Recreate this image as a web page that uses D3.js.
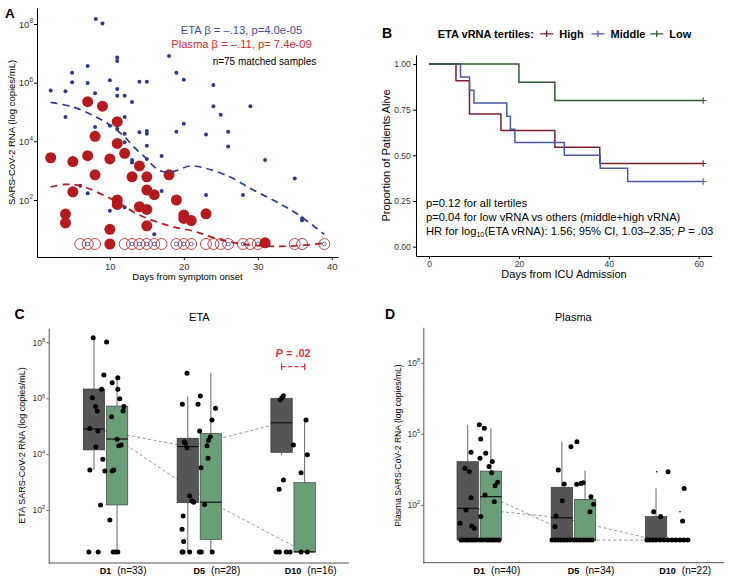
<!DOCTYPE html>
<html><head><meta charset="utf-8">
<script src="https://cdn.jsdelivr.net/npm/d3@7"></script>
<style>body{margin:0;background:#fff}svg{font-family:"Liberation Sans",Arial,Helvetica,sans-serif}</style>
</head><body><svg id="c" width="730" height="582"></svg>
<script>
// ===== DATA =====
// Panel A: [days from symptom onset, log10 copies/mL]
const etaPts = [[8.1,8.17],[9,8.02],[18,6.91],[11,6.86],[11,6.74],[4.9,6.34],[7,6.57],[19,6.34],[4.9,6.01],[7,5.99],[10,6.08],[14,6.03],[15,6.03],[20,6.10],[2,5.73],[4,5.71],[8,5.64],[11,5.78],[11,5.55],[12,5.55],[13,5.34],[4,4.83],[12,4.83],[8,4.49],[10,4.53],[11,4.43],[12,4.26],[14,4.31],[15,4.35],[15,4.26],[19,4.33],[20,4.60],[12,3.97],[15,3.85],[24,5.92],[24,5.20],[29,5.20],[25,4.91],[23,4.23],[26,4.33],[26,3.82],[13,3.36],[13,3.28],[15,3.40],[17,3.50],[7,2.23],[17,2.31],[6,2.49],[10,1.63],[12,1.75],[16,0.83],[31,3.36],[35,2.73],[23,2.17],[28,2.17],[36,1.31],[36,1.38]];
const etaUndetDays = [7,13,14,15,16,19,20,21,26,28,30,39];
const plasmaPts = [[7,5.35],[9,5.20],[11,4.67],[8,4.17],[11,3.93],[2,3.44],[5,3.31],[7,3.51],[10,3.40],[12,3.59],[14,3.16],[8,2.86],[13,2.79],[15,2.79],[18,2.86],[5,2.28],[15,2.34],[16,2.18],[19,2.0],[11,2.0],[11,1.85],[14,1.77],[15,1.68],[4,1.52],[4,1.22],[20,1.49],[20,1.37],[21,1.30],[15,1.12],[10,1.0],[10,0.5],[23,1.53],[31,0.54]];
const plasmaUndetDays = [6,7,8,12,13,14,15,16,17,19,20,21,23,24,25,26,28,29,30,35,36,39];
const LOD = 0.5;
const etaFit = [[2,5.33],[5,5.17],[8,4.85],[10,4.56],[12,4.15],[13.2,3.82],[15,3.40],[16,3.13],[17,2.98],[18,2.94],[19,3.0],[20.8,3.16],[23,3.08],[26.2,2.79],[29.4,2.34],[32.5,1.94],[35.2,1.55],[39,0.83]];
const plasmaFit = [[2,2.45],[4,2.53],[6,2.49],[10,2.06],[14,1.49],[18,1.12],[21,0.96],[22.2,0.87],[24.9,0.65],[28.5,0.48],[32.1,0.42],[35.2,0.44],[39,0.53]];
const aXTicks = [10,20,30,40];
const aYTicks = [2,4,6,8];

// Panel B: Kaplan-Meier [day, proportion alive]
const kmHigh = [[0,1],[6,0.909],[9,0.727],[16,0.636],[28,0.545],[38,0.455],[61,0.455]];
const kmMiddle = [[0,1],[7,0.929],[9,0.857],[10,0.786],[17.3,0.714],[18.1,0.643],[19.1,0.571],[30.1,0.5],[38.1,0.429],[44.2,0.357],[61,0.357]];
const kmLow = [[0,1],[20,0.9],[28,0.8],[61,0.8]];
const bXTicks = [0,20,40,60];
const bYTicks = [0,0.25,0.5,0.75,1];
const tertiles = ["High","Middle","Low"];

// Panels C & D
const cats = ["D1","D5","D10"];
const nEta = ["(n=33)","(n=28)","(n=16)"];
const nPlasma = ["(n=40)","(n=34)","(n=22)"];
// [category 1-3, group (0 dark,1 green), whiskerLow, Q1, median, Q3, whiskerHigh] in log10
const etaBoxes = [[1,0,3.43,4.15,4.90,6.33,8.16],[1,1,0.5,2.18,4.54,5.72,6.79],[2,0,0.5,2.26,4.27,4.57,6.05],[2,1,0.5,0.95,2.28,4.74,6.89],[3,0,3.97,4.06,5.12,6.0,6.0],[3,1,0.5,0.5,0.5,2.98,5.2]];
const plasmaBoxes = [[1,0,0.52,0.52,1.86,3.83,5.38],[1,1,0.52,0.52,2.35,3.43,5.24],[2,0,0.52,0.52,1.46,2.75,4.67],[2,1,0.52,0.52,0.52,2.24,3.45],[3,0,0.52,0.52,0.52,1.51,2.70],[3,1,0.52,0.52,0.52,0.52,0.52]];
// jittered points: [category position, log10]
const etaDots = [[0.869,8.16],[1.011,8.01],[0.982,6.83],[0.957,6.32],[1.071,6.55],[1.131,6.73],[1.131,6.32],[1.152,5.98],[0.859,6.02],[0.894,5.70],[0.912,5.54],[1.195,5.70],[1.188,5.54],[1.064,5.34],[0.833,4.92],[0.918,4.83],[0.897,4.26],[1.124,4.53],[1.141,4.30],[1.167,4.33],[0.971,3.82],[0.833,3.43],[0.993,3.40],[1.071,3.40],[1.088,3.43],[0.947,2.18],[1.046,1.64],[0.822,0.5],[0.922,0.5],[1.082,0.5],[1.106,0.5],[1.131,0.5],
 [1.869,6.89],[2.011,6.08],[1.819,5.78],[1.986,5.78],[2.173,5.64],[2.135,5.22],[2.003,4.83],[2.117,4.62],[2.099,4.50],[1.840,4.44],[1.851,4.39],[1.869,4.23],[2.082,4.30],[2.093,3.85],[2.018,3.51],[1.897,2.50],[1.922,2.32],[1.939,2.28],[2.056,2.20],[1.827,1.79],[1.816,1.31],[1.833,0.87],[1.816,0.5],[1.827,0.5],[1.897,0.5],[2.0,0.5],[2.021,0.5],[2.138,0.5],
 [2.862,5.94],[2.880,6.02],[2.897,6.09],[3.138,5.22],[3.003,4.33],[3.152,3.98],[3.085,3.33],[2.897,3.07],[2.851,2.74],[2.819,0.5],[2.854,0.5],[2.926,0.5],[2.968,0.5],[3.085,0.5],[3.152,0.5]];
const plasmaDots = [[1.0,5.38],[1.053,5.24],[1.015,4.78],[0.912,4.22],[1.068,4.18],[1.007,3.97],[1.138,3.83],[1.103,3.62],[0.848,3.55],[0.894,3.41],[1.132,3.36],[1.195,2.96],[1.167,2.81],[0.912,2.31],[1.061,2.42],[1.159,2.14],[0.859,1.79],[1.015,1.51],[0.795,1.23],[0.919,1.11],[0.947,1.02],
 [0.806,0.52],[0.830,0.52],[0.859,0.52],[0.883,0.52],[0.912,0.52],[0.936,0.52],[0.965,0.52],[1.007,0.52],[1.039,0.52],[1.079,0.52],[1.103,0.52],[1.132,0.52],[1.156,0.52],[1.185,0.52],[1.209,0.52],
 [2.037,4.67],[1.973,4.46],[1.839,3.48],[1.902,2.89],[2.034,2.87],[2.080,2.91],[2.104,2.94],[1.881,2.18],[2.186,2.35],[2.214,2.03],[2.175,1.72],[1.814,1.54],[1.804,1.09],
 [1.772,0.52],[1.804,0.52],[1.835,0.52],[1.867,0.52],[1.899,0.52],[1.931,0.52],[1.963,0.52],[2.005,0.52],[2.037,0.52],[2.069,0.52],[2.101,0.52],[2.133,0.52],[2.165,0.52],[2.197,0.52],
 [3.006,3.40],[3.176,2.70],[2.851,1.72],[2.926,1.51],[3.159,1.33],
 [2.780,0.52],[2.812,0.52],[2.844,0.52],[2.876,0.52],[2.918,0.52],[2.961,0.52],[3.003,0.52],[3.046,0.52],[3.088,0.52],[3.131,0.52],[3.173,0.52],[3.216,0.52]];
const plasmaTiny = [[2.884,3.40],[3.132,1.72]];
const cYTicks = [2,4,6,8];
const dYTicks = [2,5,8];

// ===== DRAWING =====
const svg = d3.select("#c");
const BLUE="#2d3a8c", RED="#b31b1e", BLUE_T="#3d4ea3", RED_T="#d42a2e";
const KMC = {High:"#7a1f2b", Middle:"#4b5ba6", Low:"#2f5a2f"};
const BOXC = ["#555555","#6a9e79"];

function txt(g,x,y,s,o={}){
  const t=g.append("text").attr("x",x).attr("y",y).text(s)
    .attr("font-size",o.size||11).attr("fill",o.fill||"#000")
    .attr("text-anchor",o.anchor||"start").attr("font-weight",o.weight||"normal");
  if(o.rotate) t.attr("transform",`rotate(-90,${x},${y})`);
  return t;
}
function styleAxis(a,fs,col){
  a.attr("font-family",null).attr("font-size",fs);
  a.select(".domain").attr("stroke",col||"#000").attr("stroke-width",1);
  a.selectAll(".tick line").attr("stroke",col||"#000");
  a.selectAll(".tick text").attr("fill","#333");
}
function logAxisLeft(g,scale,ticks,x,fs,size,pad,col){
  const a=g.append("g").attr("transform",`translate(${x},0)`)
    .call(d3.axisLeft(scale).tickValues(ticks).tickSize(size).tickSizeOuter(0).tickPadding(pad));
  styleAxis(a,fs,col);
  a.selectAll(".tick text").each(function(d){
    const t=d3.select(this).text(null);
    t.append("tspan").text("10");
    t.append("tspan").attr("dy",-fs*0.45).attr("font-size",fs*0.68).text(d);
  });
  return a;
}

// ---------- Panel A ----------
const gA=svg.append("g");
const ax=d3.scaleLinear().domain([0.15,40.85]).range([37,338]);
const ay=d3.scaleLinear().domain([0.057,8.545]).range([257,8]);
styleAxis(gA.append("g").attr("transform","translate(0,257)")
  .call(d3.axisBottom(ax).tickValues(aXTicks).tickSize(3).tickSizeOuter(0).tickPadding(3)),9.5);
logAxisLeft(gA,ay,aYTicks,37,9.5,3,1);
gA.selectAll(".pu").data(plasmaUndetDays).join("circle").attr("cx",d=>ax(d)).attr("cy",ay(LOD)).attr("r",5.5)
  .attr("fill","none").attr("stroke",RED).attr("stroke-width",0.8);
gA.selectAll(".pf").data(plasmaPts).join("circle").attr("cx",d=>ax(d[0])).attr("cy",d=>ay(d[1])).attr("r",5.5).attr("fill",RED);
gA.selectAll(".eu").data(etaUndetDays).join("circle").attr("cx",d=>ax(d)).attr("cy",ay(LOD)).attr("r",1.9)
  .attr("fill","none").attr("stroke",BLUE).attr("stroke-width",0.7);
gA.selectAll(".ef").data(etaPts).join("circle").attr("cx",d=>ax(d[0])).attr("cy",d=>ay(d[1])).attr("r",2).attr("fill",BLUE);
const lineA=d3.line().curve(d3.curveCatmullRom).x(d=>ax(d[0])).y(d=>ay(d[1]));
gA.append("path").datum(etaFit).attr("d",lineA).attr("fill","none").attr("stroke",BLUE).attr("stroke-width",1.7).attr("stroke-dasharray","7,5");
gA.append("path").datum(plasmaFit).attr("d",lineA).attr("fill","none").attr("stroke",RED).attr("stroke-width",1.7).attr("stroke-dasharray","7,5");
txt(gA,5,17.5,"A",{size:13.5,weight:"bold"});
txt(gA,241.5,34.3,"ETA β = –.13, p=4.0e-05",{size:11.2,fill:BLUE_T,anchor:"middle"});
txt(gA,241.5,48.3,"Plasma β = –.11, p= 7.4e-09",{size:11.2,fill:RED_T,anchor:"middle"});
txt(gA,264.5,65,"n=75 matched samples",{size:10,anchor:"middle"});
txt(gA,187.5,280,"Days from symptom onset",{size:9.5,anchor:"middle"});
txt(gA,15,132.5,"SARS-CoV-2 RNA (log copies/mL)",{size:9.5,anchor:"middle",rotate:true});

// ---------- Panel B ----------
const gB=svg.append("g");
const bx=d3.scaleLinear().domain([-2.9,62.9]).range([416,711.7]);
const by=d3.scaleLinear().domain([-0.05,1.05]).range([255.8,54.9]);
styleAxis(gB.append("g").attr("transform","translate(0,256)")
  .call(d3.axisBottom(bx).tickValues(bXTicks).tickSize(3).tickSizeOuter(0).tickPadding(1.8)),8.5);
styleAxis(gB.append("g").attr("transform","translate(416,0)")
  .call(d3.axisLeft(by).tickValues(bYTicks).tickFormat(d3.format(".2f")).tickSize(3).tickSizeOuter(0).tickPadding(2.3)),8.5);
const kmLine=d3.line().curve(d3.curveStepAfter).x(d=>bx(d[0])).y(d=>by(d[1]));
[[kmHigh,"High"],[kmMiddle,"Middle"],[kmLow,"Low"]].forEach(([km,k])=>{
  gB.append("path").datum(km).attr("d",kmLine).attr("fill","none").attr("stroke",KMC[k]).attr("stroke-width",1.5);
  const last=km[km.length-1];
  gB.append("path").attr("d",`M${bx(last[0])},${by(last[1])-3.2}v6.4M${bx(last[0])-3.2},${by(last[1])}h6.4`)
    .attr("stroke",KMC[k]).attr("stroke-width",1.1);
});
txt(gB,382,37.7,"B",{size:14,weight:"bold"});
txt(gB,437.7,37.5,"ETA vRNA tertiles:",{size:11,weight:"bold"});
const legX=[546.7,598,656.7];
tertiles.forEach((k,i)=>{
  gB.append("path").attr("d",`M${legX[i]-6.5},33.8h13M${legX[i]},30.6v6.4`).attr("stroke",KMC[k]).attr("stroke-width",1.3);
  txt(gB,legX[i]+12.5,37.5,k,{size:11,weight:"bold"});
});
txt(gB,390,155.5,"Proportion of Patients Alive",{size:11,anchor:"middle",rotate:true});
txt(gB,564,278,"Days from ICU Admission",{size:11,anchor:"middle"});
txt(gB,426,207,"p=0.12 for all tertiles",{size:11.2});
txt(gB,426,221,"p=0.04 for low vRNA vs others (middle+high vRNA)",{size:11.2});
const hr=txt(gB,426,234.5,"HR for log",{size:11.2});
hr.append("tspan").attr("font-size",7.2).attr("dy",2).text("10");
hr.append("tspan").attr("dy",-2).text("(ETA vRNA): 1.56; 95% CI, 1.03–2.35; ");
hr.append("tspan").attr("font-style","italic").text("P");
hr.append("tspan").text(" = .03");

// ---------- Panels C & D ----------
function boxPanel(o){
  const g=svg.append("g");
  const xs=d3.scaleLinear().domain(o.xdom).range(o.xr);
  const ys=d3.scaleLinear().domain(o.ydom).range(o.yr);
  g.append("line").attr("x1",o.xr[0]).attr("x2",o.xr[1]).attr("y1",o.yr[0]).attr("y2",o.yr[0]).attr("stroke","#555").attr("stroke-width",1);
  logAxisLeft(g,ys,o.yticks,o.xr[0],o.tfs,2,o.tpad,"#555");
  const off=0.123, hw=0.1143;
  const cx=b=>b[0]+(b[1]===0?-off:off);
  [0,1].forEach(grp=>{
    const bs=o.boxes.filter(b=>b[1]===grp);
    g.append("path").datum(bs).attr("d",d3.line().x(b=>xs(cx(b))).y(b=>ys(b[4])))
      .attr("fill","none").attr("stroke","#8a8a8a").attr("stroke-width",0.9).attr("stroke-dasharray","3,2.5");
  });
  o.boxes.forEach(b=>{
    const x=xs(cx(b)), x0=xs(cx(b)-hw), x1=xs(cx(b)+hw);
    g.append("line").attr("x1",x).attr("x2",x).attr("y1",ys(b[2])).attr("y2",ys(b[3])).attr("stroke","#555").attr("stroke-width",0.9);
    g.append("line").attr("x1",x).attr("x2",x).attr("y1",ys(b[5])).attr("y2",ys(b[6])).attr("stroke","#555").attr("stroke-width",0.9);
    g.append("rect").attr("x",x0).attr("width",x1-x0).attr("y",ys(b[5])).attr("height",Math.max(0,ys(b[3])-ys(b[5])))
      .attr("fill",BOXC[b[1]]).attr("stroke","#333").attr("stroke-width",0.6);
    g.append("line").attr("x1",x0).attr("x2",x1).attr("y1",ys(b[4])).attr("y2",ys(b[4])).attr("stroke","#111").attr("stroke-width",1.2);
  });
  g.selectAll(".pt").data(o.dots).join("circle").attr("cx",d=>xs(d[0])).attr("cy",d=>ys(d[1])).attr("r",2.5).attr("fill","#000");
  if(o.tiny) g.selectAll(".tn").data(o.tiny).join("circle").attr("cx",d=>xs(d[0])).attr("cy",d=>ys(d[1])).attr("r",0.8).attr("fill","#000");
  cats.forEach((c,i)=>{
    const t=txt(g,xs(i+1),574,c,{size:9,weight:"bold",anchor:"middle"});
    const w=t.node().getComputedTextLength();
    txt(g,xs(i+1)+w/2+6,574,o.ns[i],{size:10});
  });
  txt(g,o.letter[1],319.3,o.letter[0],{size:14,weight:"bold"});
  txt(g,(o.xr[0]+o.xr[1])/2+o.titleDx,320.5,o.title,{size:11,anchor:"middle"});
  txt(g,o.ylabX,445.5,o.ylab,{size:o.ylabSize,anchor:"middle",rotate:true});
  return {g,xs,ys};
}
const C=boxPanel({xdom:[0.394,3.596],xr:[48.7,349],ydom:[0.104,8.512],yr:[563,328],yticks:cYTicks,tfs:8.5,tpad:1.5,
  boxes:etaBoxes,dots:etaDots,ns:nEta,letter:["C",14.5],title:"ETA",titleDx:0.5,ylab:"ETA SARS-CoV-2 RNA (log copies/mL)",ylabX:25,ylabSize:9});
const D=boxPanel({xdom:[0.405,3.599],xr:[423.3,724],ydom:[-0.433,9.492],yr:[562.7,327.3],yticks:dYTicks,tfs:8.5,tpad:1.2,
  boxes:plasmaBoxes,dots:plasmaDots,tiny:plasmaTiny,ns:nPlasma,letter:["D",385],title:"Plasma",titleDx:-0.3,ylab:"Plasma SARS-CoV-2 RNA (log copies/mL)",ylabX:401,ylabSize:8.6});

// significance bracket in C (D10 groups)
const RB="#e0323a";
const bL=C.xs(3-0.123), bR=C.xs(3+0.123), bY=366.7;
C.g.append("path").attr("d",`M${bL},${bY-3.3}v6.6M${bR},${bY-3.3}v6.6`).attr("stroke",RB).attr("stroke-width",1.3);
C.g.append("line").attr("x1",bL).attr("x2",bR).attr("y1",bY).attr("y2",bY).attr("stroke",RB).attr("stroke-width",1.3).attr("stroke-dasharray","4,2.5");
const pt=txt(C.g,(bL+bR)/2,357.3,"",{size:11,weight:"bold",fill:RB,anchor:"middle"});
pt.append("tspan").attr("font-style","italic").text("P");
pt.append("tspan").text(" = .02");
</script></body></html>
